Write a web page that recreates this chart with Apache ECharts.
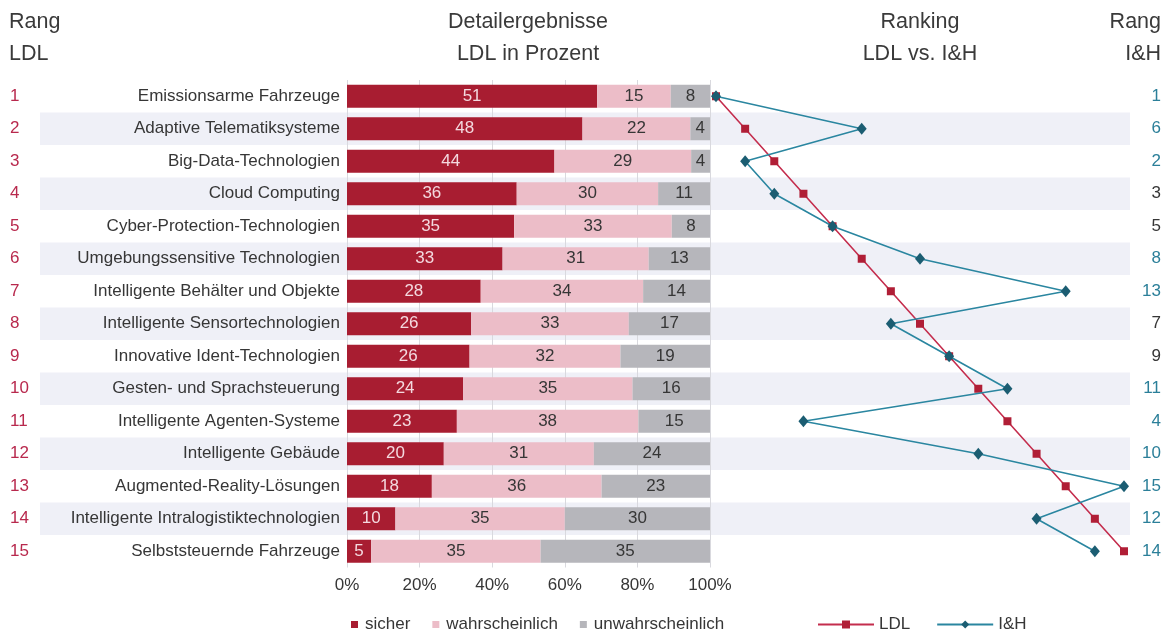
<!DOCTYPE html>
<html>
<head>
<meta charset="utf-8">
<script src="https://cdn.jsdelivr.net/npm/echarts@6/dist/echarts.min.js"></script>
<style>
  html, body { margin: 0; padding: 0; background: #ffffff; }
  #chart { width: 1166px; height: 631px; }
</style>
</head>
<body>
<div id="chart"></div>
<script>
// Technologies, ordered by LDL rank
const categories = [
  'Emissionsarme Fahrzeuge',
  'Adaptive Telematiksysteme',
  'Big-Data-Technologien',
  'Cloud Computing',
  'Cyber-Protection-Technologien',
  'Umgebungssensitive Technologien',
  'Intelligente Behälter und Objekte',
  'Intelligente Sensortechnologien',
  'Innovative Ident-Technologien',
  'Gesten- und Sprachsteuerung',
  'Intelligente Agenten-Systeme',
  'Intelligente Gebäude',
  'Augmented-Reality-Lösungen',
  'Intelligente Intralogistiktechnologien',
  'Selbststeuernde Fahrzeuge'
];

// Survey answers (LDL), raw counts per technology
const sicher = [51, 48, 44, 36, 35, 33, 28, 26, 26, 24, 23, 20, 18, 10, 5];
const wahrscheinlich = [15, 22, 29, 30, 33, 31, 34, 33, 32, 35, 38, 31, 36, 35, 35];
const unwahrscheinlich = [8, 4, 4, 11, 8, 13, 14, 17, 19, 16, 15, 24, 23, 30, 35];

// Rankings
const rankLDL = [1, 2, 3, 4, 5, 6, 7, 8, 9, 10, 11, 12, 13, 14, 15];
const rankIH = [1, 6, 2, 3, 5, 8, 13, 7, 9, 11, 4, 10, 15, 12, 14];
// Colour of each I&H rank label (true = teal, false = dark)
const rankIHTeal = [true, true, true, false, false, true, true, false, false, true, true, true, true, true, true];

// Percent axis ticks
const percentTicks = [0, 20, 40, 60, 80, 100];

const FONT = 'Liberation Sans, Arial, sans-serif';
const C_SICHER = '#a81d31';
const C_WAHR = '#ecbdc8';
const C_UNWAHR = '#b6b6bb';
const C_LDL_LINE = '#c42d4d';
const C_LDL_MARK = '#b01e36';
const C_IH_LINE = '#2a86a0';
const C_IH_MARK = '#1b5d72';
const C_TEAL_TEXT = '#2b7f99';
const C_RANK_LDL = '#b8294d';
const C_TEXT = '#363636';

// Each bar is normalised to the row total so that all bars fill 0–100 %
const totals = sicher.map((v, i) => v + wahrscheinlich[i] + unwahrscheinlich[i]);
const share = (arr) => arr.map((v, i) => v / totals[i] * 100);

const gridTop = 80;
const gridBottom = 63.5;

function barSeries(name, raw, color, labelColor) {
  return {
    name: name,
    type: 'bar',
    stack: 'ldl',
    xAxisIndex: 1,
    yAxisIndex: 1,
    barWidth: 23,
    z: 3,
    itemStyle: { color: color },
    label: {
      show: true,
      position: 'inside',
      color: labelColor,
      fontFamily: FONT,
      fontSize: 17,
      formatter: (p) => raw[p.dataIndex]
    },
    data: share(raw)
  };
}

const chart = echarts.init(document.getElementById('chart'), null, { renderer: 'canvas' });

const headerStyle = { fill: '#3a3a3a', font: '21.5px ' + FONT, textVerticalAlign: 'middle' };
function header(text, x, y, align) {
  return { type: 'text', style: Object.assign({ text: text, x: x, y: y, textAlign: align }, headerStyle) };
}

chart.setOption({
  animation: false,
  backgroundColor: '#ffffff',
  textStyle: { fontFamily: FONT },
  graphic: [
    header('Rang', 9, 22, 'left'),
    header('LDL', 9, 54, 'left'),
    header('Detailergebnisse', 528, 22, 'center'),
    header('LDL in Prozent', 528, 54, 'center'),
    header('Ranking', 920, 22, 'center'),
    header('LDL vs. I&H', 920, 54, 'center'),
    header('Rang', 1161, 22, 'right'),
    header('I&H', 1161, 54, 'right')
  ],
  legend: [
    {
      data: ['sicher', 'wahrscheinlich', 'unwahrscheinlich'],
      left: 346,
      top: 611,
      icon: 'rect',
      itemWidth: 7,
      itemHeight: 7,
      itemGap: 22,
      textStyle: { fontFamily: FONT, fontSize: 17, color: C_TEXT, padding: [0, 0, 0, 2] }
    },
    {
      data: ['LDL', 'I&H'],
      left: 812,
      top: 611,
      itemWidth: 56,
      itemHeight: 10,
      itemGap: 26,
      textStyle: { fontFamily: FONT, fontSize: 17, color: C_TEXT }
    }
  ],
  grid: [
    { left: 40, right: 36, top: gridTop, bottom: gridBottom },
    { left: 347, right: 456, top: gridTop, bottom: gridBottom },
    { left: 716, right: 42, top: gridTop, bottom: gridBottom }
  ],
  xAxis: [
    { gridIndex: 0, type: 'value', show: false, min: 0, max: 1 },
    {
      gridIndex: 1,
      type: 'value',
      min: 0,
      max: 100,
      interval: 20,
      axisLine: { show: false },
      axisTick: { show: false },
      splitLine: { show: true, lineStyle: { color: '#d9d9de', width: 1 } },
      axisLabel: {
        margin: 9,
        fontFamily: FONT,
        fontSize: 17,
        color: C_TEXT,
        formatter: (v) => percentTicks.includes(v) ? v + '%' : ''
      }
    },
    { gridIndex: 2, type: 'value', show: false, min: 1, max: 15 }
  ],
  yAxis: [
    {
      gridIndex: 0,
      type: 'category',
      inverse: true,
      data: rankLDL,
      axisLine: { show: false },
      axisTick: { show: false },
      splitLine: { show: false },
      splitArea: { show: true, areaStyle: { color: ['rgba(0,0,0,0)', '#eff0f7'] } },
      axisLabel: { align: 'left', margin: 30, fontFamily: FONT, fontSize: 17, color: C_RANK_LDL }
    },
    {
      gridIndex: 1,
      type: 'category',
      inverse: true,
      data: categories,
      axisLine: { show: false },
      axisTick: { show: false },
      axisLabel: { margin: 7, fontFamily: FONT, fontSize: 17, color: C_TEXT }
    },
    {
      gridIndex: 2,
      type: 'category',
      inverse: true,
      position: 'right',
      data: rankIH,
      axisLine: { show: false },
      axisTick: { show: false },
      axisLabel: {
        align: 'right',
        margin: 37,
        fontFamily: FONT,
        fontSize: 17,
        color: (v, i) => rankIHTeal[i] ? C_TEAL_TEXT : C_TEXT
      }
    }
  ],
  series: [
    barSeries('sicher', sicher, C_SICHER, '#f4d9df'),
    barSeries('wahrscheinlich', wahrscheinlich, C_WAHR, C_TEXT),
    barSeries('unwahrscheinlich', unwahrscheinlich, C_UNWAHR, C_TEXT),
    {
      name: 'LDL',
      type: 'line',
      xAxisIndex: 2,
      yAxisIndex: 2,
      z: 4,
      symbol: 'rect',
      symbolSize: 8,
      showAllSymbol: true,
      lineStyle: { color: C_LDL_LINE, width: 1.6 },
      itemStyle: { color: C_LDL_MARK },
      data: rankLDL.map((r, i) => [r, i])
    },
    {
      name: 'I&H',
      type: 'line',
      xAxisIndex: 2,
      yAxisIndex: 2,
      z: 5,
      symbol: 'diamond',
      symbolSize: [10, 12],
      showAllSymbol: true,
      lineStyle: { color: C_IH_LINE, width: 1.6 },
      itemStyle: { color: C_IH_MARK },
      data: rankIH.map((r, i) => [r, i])
    }
  ]
});
</script>
</body>
</html>
